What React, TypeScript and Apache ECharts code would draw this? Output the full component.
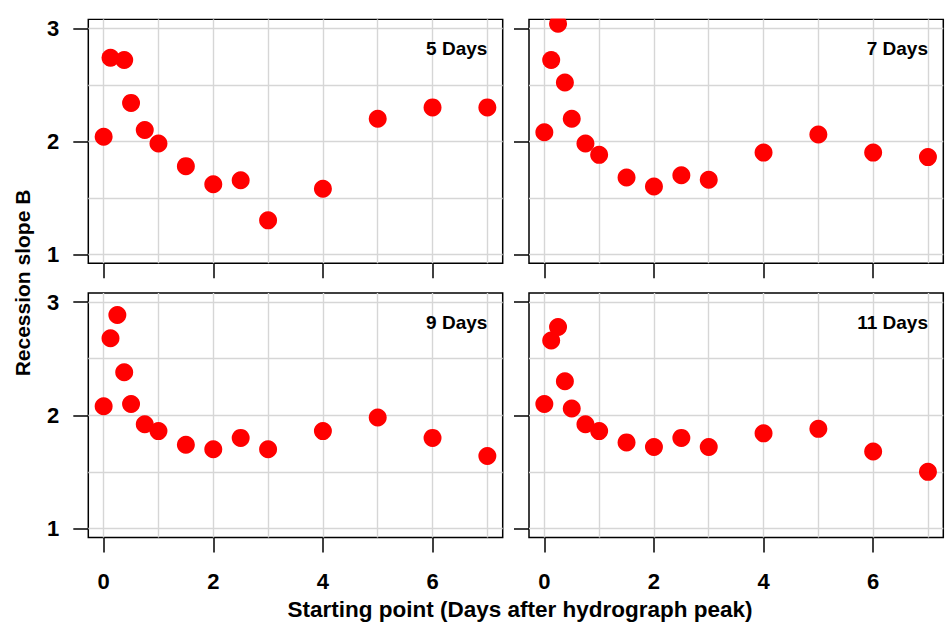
import React, { useEffect, useRef } from 'react';
import * as echarts from 'echarts';

// ---- data ----
const startDays = [0, 0.125, 0.25, 0.375, 0.5, 0.75, 1, 1.5, 2, 2.5, 3, 4, 5, 6, 7];
const slope5Days = [2.04, 2.74, null, 2.72, 2.34, 2.1, 1.98, 1.78, 1.62, 1.655, 1.3, 1.58, 2.2, 2.3, 2.3];
const slope7Days = [2.08, 2.72, 3.04, 2.52, 2.2, 1.98, 1.88, 1.68, 1.6, 1.7, 1.66, 1.9, 2.06, 1.9, 1.86];
const slope9Days = [2.08, 2.68, 2.885, 2.38, 2.1, 1.92, 1.86, 1.74, 1.7, 1.8, 1.7, 1.86, 1.98, 1.8, 1.64];
const slope11Days = [2.1, 2.66, 2.78, 2.3, 2.06, 1.92, 1.86, 1.76, 1.72, 1.8, 1.72, 1.84, 1.88, 1.68, 1.5];
const panelLabels = ['5 Days', '7 Days', '9 Days', '11 Days'];
const xTickValues = [0, 2, 4, 6];
const yTickValues = [1, 2, 3];
const xGridValues = [0, 1, 2, 3, 4, 5, 6, 7];
const yGridValues = [1, 1.5, 2, 2.5, 3];
const xTitle = 'Starting point (Days after hydrograph peak)';
const yTitle = 'Recession slope B';

const X_MIN = -0.28;
const X_MAX = 7.28;
const Y_MIN = 0.92;
const Y_MAX = 3.08;

const FONT = '"Liberation Sans", Arial, Helvetica, sans-serif';

// ---- layout ----
const panels = [
  { left: 88.3, top: 19.3, width: 414.4, height: 244, showX: false, showY: true },
  { left: 529, top: 19.3, width: 414.3, height: 244, showX: false, showY: false },
  { left: 88.3, top: 293, width: 414.4, height: 244.5, showX: true, showY: true },
  { left: 529, top: 293, width: 414.3, height: 244.5, showX: true, showY: false },
];

const seriesValues = [slope5Days, slope7Days, slope9Days, slope11Days];

export default function App() {
  const ref = useRef<HTMLDivElement>(null);

  useEffect(() => {
    if (!ref.current) return;
    const chart = echarts.init(ref.current, null, { renderer: 'svg' });

    const grid = panels.map((p) => ({
      left: p.left,
      top: p.top,
      width: p.width,
      height: p.height,
      show: true,
      borderColor: '#000',
      borderWidth: 1.5,
      backgroundColor: 'transparent',
      containLabel: false,
    }));

    const xAxis = panels.map((p, i) => ({
      type: 'value',
      gridIndex: i,
      min: X_MIN,
      max: X_MAX,
      axisLine: { show: false, onZero: false },
      splitLine: { show: false },
      axisTick: {
        show: true,
        length: 15,
        inside: false,
        customValues: xTickValues,
        lineStyle: { color: '#000', width: 1.5 },
      },
      axisLabel: {
        show: p.showX,
        customValues: xTickValues,
        margin: 33,
        color: '#000',
        fontSize: 22,
        fontWeight: 'bold',
        fontFamily: FONT,
      },
    }));

    const yAxis = panels.map((p, i) => ({
      type: 'value',
      gridIndex: i,
      min: Y_MIN,
      max: Y_MAX,
      axisLine: { show: false, onZero: false },
      splitLine: { show: false },
      axisTick: {
        show: true,
        length: 15,
        inside: false,
        customValues: yTickValues,
        lineStyle: { color: '#000', width: 1.5 },
      },
      axisLabel: {
        show: p.showY,
        customValues: yTickValues,
        margin: 29,
        color: '#000',
        fontSize: 22,
        fontWeight: 'bold',
        fontFamily: FONT,
      },
    }));

    const gridLineSeries = panels.map((_, i) => ({
      type: 'line',
      xAxisIndex: i,
      yAxisIndex: i,
      data: [],
      silent: true,
      markLine: {
        silent: true,
        symbol: ['none', 'none'],
        label: { show: false },
        z: 1,
        lineStyle: { color: '#d6d6d6', width: 1.4, type: 'solid' },
        data: [
          ...xGridValues.map((v) => ({ xAxis: v })),
          ...yGridValues.map((v) => ({ yAxis: v })),
        ],
      },
    }));

    const pointSeries = seriesValues.map((vals, i) => ({
      type: 'scatter',
      name: panelLabels[i],
      xAxisIndex: i,
      yAxisIndex: i,
      z: 10,
      symbol: 'circle',
      symbolSize: 18,
      itemStyle: { color: '#ff0000', opacity: 1 },
      data: startDays
        .map((d, j) => [d, vals[j]])
        .filter((pt) => pt[1] !== null && pt[1] !== undefined),
    }));

    const labelGraphics = panels.map((p, i) => {
      const x = p.left + ((7 - X_MIN) / (X_MAX - X_MIN)) * p.width;
      const y = p.top + 29.3;
      return {
        type: 'text',
        x,
        y,
        z: 20,
        style: {
          text: panelLabels[i],
          fill: '#000',
          font: `bold 19px ${FONT}`,
          textAlign: 'right',
          textVerticalAlign: 'middle',
          align: 'right',
          verticalAlign: 'middle',
        },
      };
    });

    const option = {
      animation: false,
      backgroundColor: '#fff',
      grid,
      xAxis,
      yAxis,
      series: [...gridLineSeries, ...pointSeries],
      graphic: [
        // clip marks that poke above the top panels (plot region clipping)
        {
          type: 'rect',
          z: 100,
          silent: true,
          shape: { x: 0, y: 0, width: 948, height: panels[0].top - 0.8 },
          style: { fill: '#fff' },
        },
        ...labelGraphics,
        {
          type: 'text',
          x: 520,
          y: 609,
          style: {
            text: xTitle,
            fill: '#000',
            font: `bold 22.5px ${FONT}`,
            textAlign: 'center',
            textVerticalAlign: 'middle',
            align: 'center',
            verticalAlign: 'middle',
          },
        },
        {
          type: 'text',
          x: 22,
          y: 283,
          rotation: Math.PI / 2,
          style: {
            text: yTitle,
            fill: '#000',
            font: `bold 21px ${FONT}`,
            textAlign: 'center',
            textVerticalAlign: 'middle',
            align: 'center',
            verticalAlign: 'middle',
          },
        },
      ],
    };

    chart.setOption(option as any);
    return () => {
      chart.dispose();
    };
  }, []);

  return (
    <div
      ref={ref}
      style={{ position: 'fixed', left: 0, top: 0, width: 948, height: 635, background: '#fff' }}
    />
  );
}
